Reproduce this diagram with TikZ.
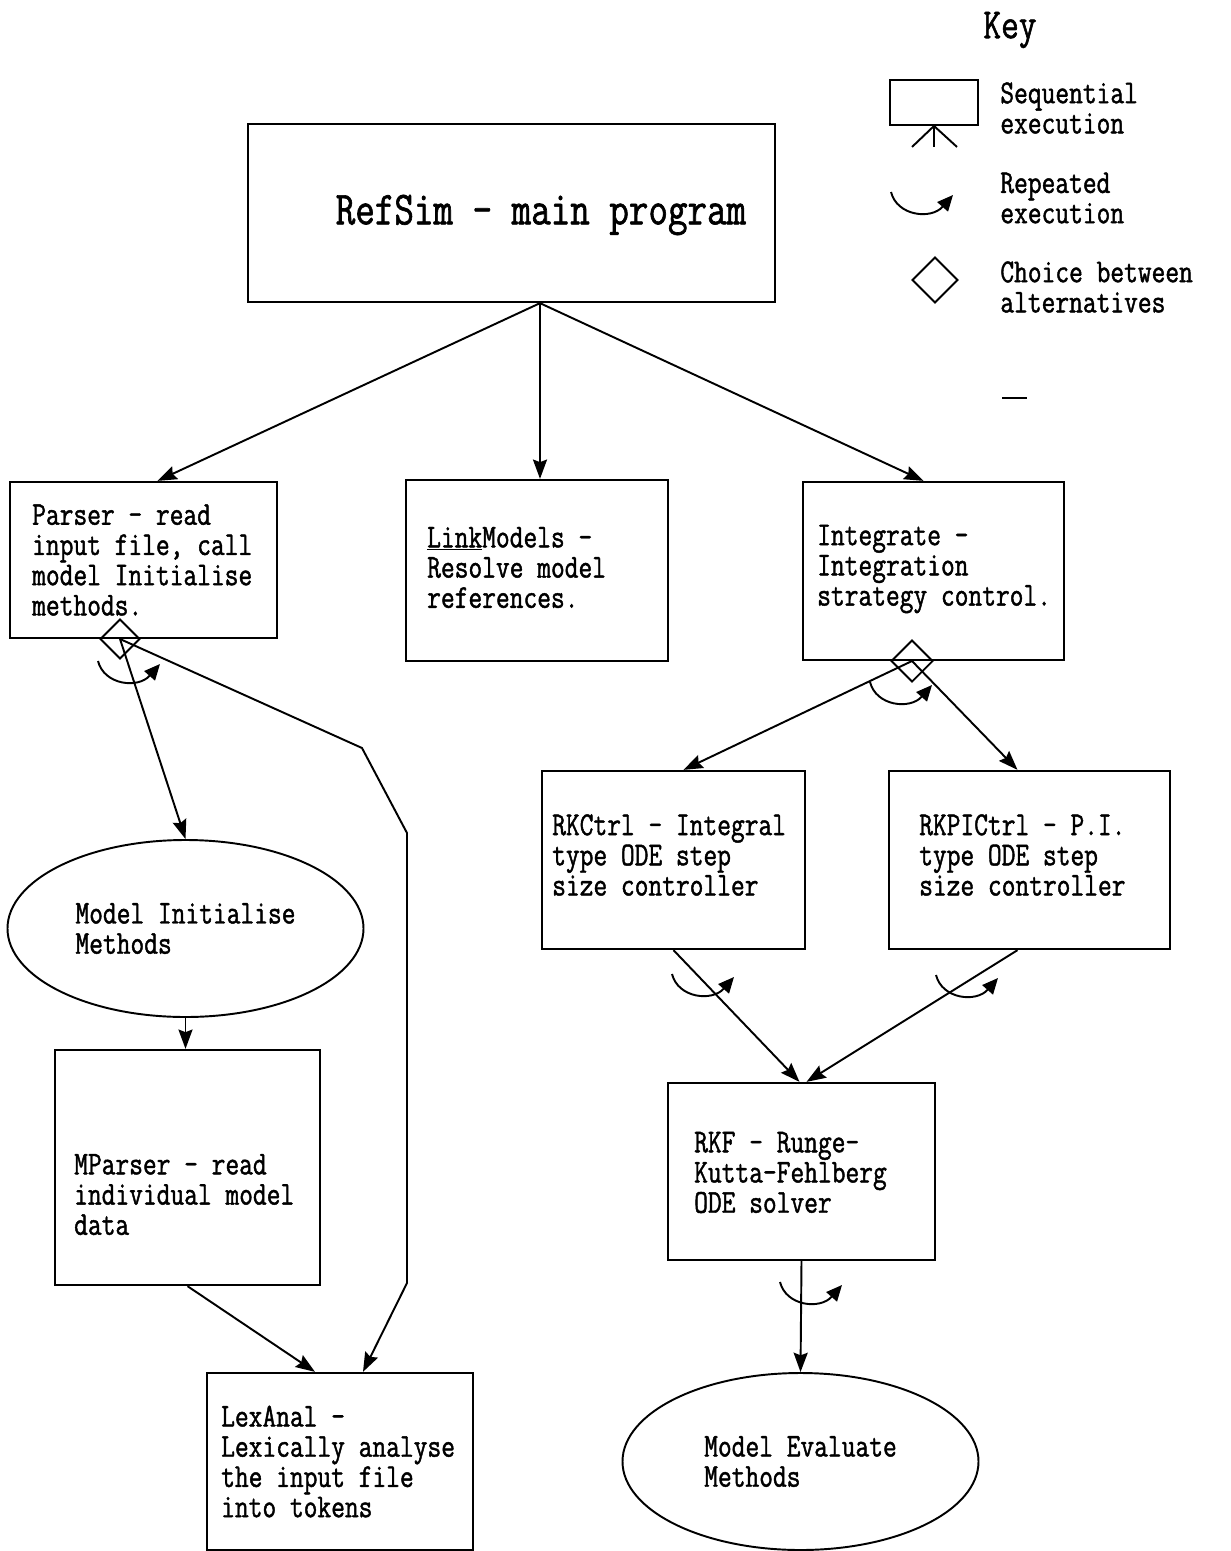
\documentclass[tikz,border=0pt]{standalone}
\usepackage{fontspec}
\newfontfamily\prt{lmmono12-regular.otf}[FakeStretch=0.80,FakeBold=1.3]
\usetikzlibrary{positioning,calc,shapes.geometric,arrows.meta}

\newcommand\bodyfont{\prt\fontsize{19pt}{17.2pt}\selectfont}

\begin{document}
\begin{tikzpicture}[x=0.02cm,y=-0.02cm,
    dims/.style 2 args={minimum width=#1*0.02cm, minimum height=#2*0.02cm},
    box/.style={draw, line width=1.3pt, inner sep=0pt},
    blob/.style={ellipse, draw, line width=1.1pt, inner sep=0pt, dims={356}{177}, align=left, font=\bodyfont},
    txt/.style={inner sep=0pt, align=left, anchor=west, font=\bodyfont},
    choice/.style={diamond, draw, line width=1.1pt, inner sep=0pt, minimum size=40*0.02cm},
    arr/.style={line width=1.1pt, -{Stealth[length=11pt,width=8pt,inset=1.5pt]}},
    reparc/.pic={\draw[line width=1.1pt, -{Triangle[length=9pt,width=8pt]}] (-30,-20) .. controls (-24,4) and (10,8) .. (32,-17);}]
    \useasboundingbox (0,0) rectangle (1230,1551);

    % boxes
    \node[box, dims={527}{178}] (main) at (511.5,213) {};
    \node[box, dims={267}{156}] (parser) at (143.5,560) {};
    \node[box, dims={262}{181}] (linkm) at (537,570.5) {};
    \node[box, dims={261}{178}] (integ) at (933.5,571) {};
    \node[box, dims={263}{178}] (rkctrl) at (673.5,860) {};
    \node[box, dims={281}{178}] (rkpi) at (1029.5,860) {};
    \node[box, dims={267}{177}] (rkf) at (801.5,1171.5) {};
    \node[box, dims={265}{235}] (mparser) at (187.5,1167.5) {};
    \node[box, dims={266}{177}] (lexanal) at (340,1461.5) {};
    \node[blob] (minit) at (185.5,928.5) {Model Initialise\\Methods};
    \node[blob] (meval) at (800.5,1461.5) {Model Evaluate\\Methods};
    \node[choice] (pdia) at (120,639) {};
    \node[choice, minimum size=42*0.02cm] (idia) at (912,661) {};

    % texts
    \node[font=\prt\fontsize{27pt}{30pt}\selectfont] (maintxt) at ($(main.center)+(29.5,2)$) {RefSim — main program};
    \node[txt] (parsertxt) at ($(parser.west)+(23,0)$) {Parser — read\\input file, call\\model Initialise\\methods.};
    \node[txt] (linkmtxt) at ($(linkm.west)+(22,-3)$) {\underline{Link}Models —\\Resolve model\\references.};
    \node[txt] (integtxt) at ($(integ.west)+(15,-2)$) {Integrate —\\Integration\\strategy control.};
    \node[txt] (rkctrltxt) at ($(rkctrl.west)+(11,-5)$) {RKCtrl — Integral\\type ODE step\\size controller};
    \node[txt] (rkpitxt) at ($(rkpi.west)+(31,-5)$) {RKPICtrl — P.I.\\type ODE step\\size controller};
    \node[txt] (rkftxt) at ($(rkf.west)+(27,1)$) {RKF — Runge—\\Kutta—Fehlberg\\ODE solver};
    \node[txt] (mparsertxt) at ($(mparser.west)+(20,27)$) {MParser — read\\individual model\\data};
    \node[txt] (lexanaltxt) at ($(lexanal.west)+(15,0)$) {LexAnal —\\Lexically analyse\\the input file\\into tokens};

    % connectors
    \coordinate (fan) at ($(main.south)+(28.5,0)$);
    \draw[arr] (fan) -- ($(parser.north)+(14,0)$);
    \draw[arr] (fan) -- ($(linkm.north)+(3,0)$);
    \draw[arr] (fan) -- ($(integ.north)+(-10,0)$);
    \draw[arr] (pdia.center) -- (minit.north);
    \coordinate (lx1) at (362,748);
    \coordinate (lx2) at (407,833);
    \coordinate (lx3) at (407,1283);
    \draw[arr] (pdia.center) -- (lx1) -- (lx2) -- (lx3) -- ($(lexanal.north)+(23,0)$);
    \draw[arr] (minit.south) -- (minit.south |- mparser.north);
    \draw[arr] (mparser.south) -- ($(lexanal.north)+(-25,0)$);
    \draw[arr] (idia.center) -- ($(rkctrl.north)+(10,0)$);
    \draw[arr] (idia.center) -- ($(rkpi.north)+(-12,0)$);
    \draw[arr] (rkctrl.south) -- ($(rkf.north)+(-2,0)$);
    \draw[arr] ($(rkpi.south)+(-12,0)$) -- ($(rkf.north)+(5,0)$);
    \draw[arr] (rkf.south) -- (meval.north);

    % repeated execution marks
    \pic at (128,681) {reparc};
    \pic at (900,702) {reparc};
    \pic at (702,994) {reparc};
    \pic at (966,995) {reparc};
    \pic at (810,1302) {reparc};

    % key
    \node[font=\prt\fontsize{24.5pt}{28pt}\selectfont] (keytitle) at (1010,30) {Key};
    \node[box, dims={88}{45}, line width=1.1pt] (keybox) at (934,102.5) {};
    \draw[line width=1.1pt] (keybox.south) -- ++(-22,21) (keybox.south) -- ++(0,21) (keybox.south) -- ++(23,21);
    \node[txt] (seqtxt) at (1000,108) {Sequential\\execution};
    \pic at (921,212) {reparc};
    \node[txt] (reptxt) at (1000,198) {Repeated\\execution};
    \node[choice, minimum size=46*0.02cm] (keydia) at (935,280) {};
    \node[txt] (choicetxt) at (1000,287) {Choice between\\alternatives};
    \draw[line width=0.8pt] (1002,398) -- (1027,398);
\end{tikzpicture}
\end{document}
